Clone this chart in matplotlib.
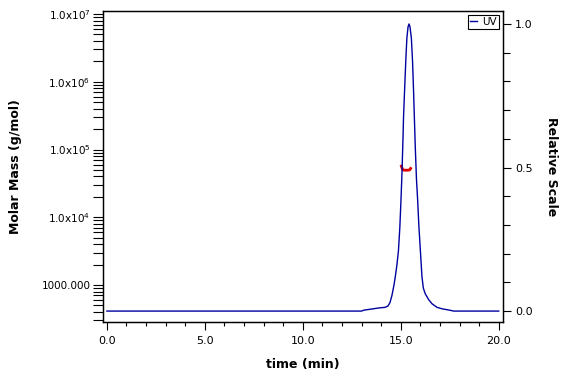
import matplotlib
matplotlib.use("Agg")
import matplotlib.pyplot as plt
from matplotlib.ticker import FixedLocator, MultipleLocator, LogLocator, NullFormatter

# UV trace (relative scale)
uv_time = [0.0, 13.0, 13.1, 13.5, 13.9, 14.2, 14.35, 14.45, 14.55, 14.65, 14.72,
           14.8, 14.88, 14.95, 15.01, 15.06, 15.11, 15.14, 15.2, 15.26, 15.31,
           15.37, 15.42, 15.47, 15.54, 15.6, 15.65, 15.69, 15.74, 15.8, 15.86,
           15.92, 16.0, 16.08, 16.15, 16.25, 16.42, 16.6, 16.85, 17.1, 17.5,
           17.7, 20.0]
uv_rel = [0.0, 0.0, 0.003, 0.007, 0.011, 0.013, 0.018, 0.03, 0.055, 0.09, 0.12,
          0.16, 0.21, 0.29, 0.387, 0.48, 0.596, 0.676, 0.78, 0.88, 0.95,
          0.99, 1.0, 0.99, 0.95, 0.87, 0.77, 0.68, 0.57, 0.46, 0.387,
          0.3, 0.21, 0.12, 0.08, 0.06, 0.04, 0.025, 0.013, 0.008, 0.003,
          0.0, 0.0]

# molar mass slice across the peak
mm_time = [15.03, 15.08, 15.12, 15.2, 15.3, 15.4, 15.46, 15.5]
mm_value = [57000, 51500, 49800, 49500, 49500, 49600, 50200, 52500]

left_ticks = [1e3, 1e4, 1e5, 1e6, 1e7]
left_labels = ["1000.000", r"1.0x10$^{4}$", r"1.0x10$^{5}$", r"1.0x10$^{6}$", r"1.0x10$^{7}$"]
x_ticks = [0, 5, 10, 15, 20]
x_labels = ["0.0", "5.0", "10.0", "15.0", "20.0"]
r_ticks = [0.0, 0.5, 1.0]
r_labels = ["0.0", "0.5", "1.0"]

fig = plt.figure(figsize=(5.76, 3.84), dpi=100)
ax = fig.add_axes([0.1788, 0.1615, 0.6939, 0.8105])
ax2 = ax.twinx()

ax2.plot(uv_time, uv_rel, color="#0000a0", lw=1.0, label="UV")
ax.plot(mm_time, mm_value, color="#e00000", lw=2.0)

ax.set_yscale("log")
ax.set_ylim(284, 1.12e7)
ax.set_xlim(-0.2, 20.2)
ax2.set_ylim(-0.038, 1.046)

ax.yaxis.set_major_locator(FixedLocator(left_ticks))
ax.set_yticklabels(left_labels)
ax.yaxis.set_minor_locator(LogLocator(base=10, subs=range(2, 10)))
ax.yaxis.set_minor_formatter(NullFormatter())
ax.set_xticks(x_ticks)
ax.set_xticklabels(x_labels)
ax.xaxis.set_minor_locator(MultipleLocator(1))
ax2.set_yticks(r_ticks)
ax2.set_yticklabels(r_labels)
ax2.yaxis.set_minor_locator(MultipleLocator(0.1))

for a in (ax, ax2):
    a.tick_params(which="both", labelsize=8, width=0.8, color="black")
    for s in a.spines.values():
        s.set_linewidth(0.9)
ax.tick_params(axis="y", which="both", length=7, pad=2, labelsize=7.5)
ax.tick_params(axis="x", which="major", length=6, pad=4)
ax.tick_params(axis="x", which="minor", length=3)
ax2.tick_params(axis="y", which="major", length=6, pad=3)
ax2.tick_params(axis="y", which="minor", length=5)

ax.set_xlabel("time (min)", fontsize=9, fontweight="bold", labelpad=9)
ax.set_ylabel("Molar Mass (g/mol)", fontsize=9, fontweight="bold", labelpad=14)
ax2.set_ylabel("Relative Scale", fontsize=9, fontweight="bold", rotation=-90, labelpad=18)

leg = ax2.legend(loc="upper right", fontsize=7.5, handlelength=0.6, handletextpad=0.5,
                 borderpad=0.2, fancybox=False, framealpha=1, borderaxespad=0.4)
leg.get_frame().set_edgecolor("black")
leg.get_frame().set_linewidth(0.8)

fig.savefig("out.png", dpi=100)
